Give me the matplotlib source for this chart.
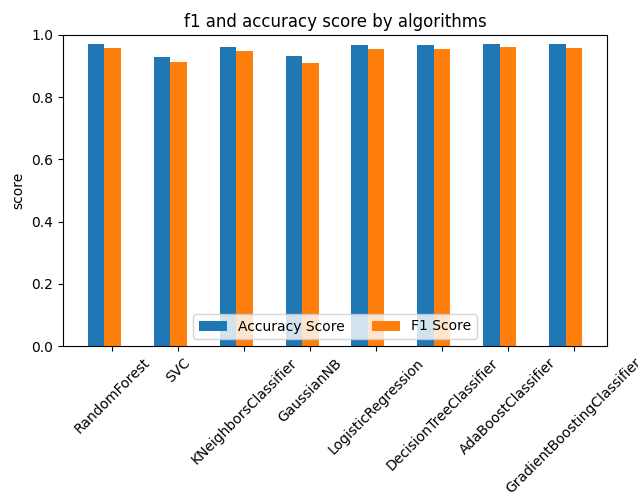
import numpy as np
import matplotlib
matplotlib.use("Agg")
import matplotlib.pyplot as plt

algorithms = ["RandomForest", "SVC", "KNeighborsClassifier", "GaussianNB",
              "LogisticRegression", "DecisionTreeClassifier", "AdaBoostClassifier",
              "GradientBoostingClassifier"]
accuracy = [0.971, 0.930, 0.963, 0.932, 0.967, 0.967, 0.971, 0.971]
f1 = [0.959, 0.913, 0.950, 0.910, 0.954, 0.954, 0.960, 0.957]

fig = plt.figure(figsize=(6.38, 5.0), dpi=100)
ax = fig.add_axes([63/638, 1-346/500, (607-63)/638, (346-35)/500])
x = np.arange(len(algorithms))
w = 0.25
ax.bar(x, accuracy, w, label="Accuracy Score")
ax.bar(x + w, f1, w, label="F1 Score")
ax.set_xticks(x + w)
ax.set_xticklabels(algorithms, rotation=45)
ax.set_ylim(0, 1.0)
ax.set_ylabel("score")
ax.set_title("f1 and accuracy score by algorithms")
ax.legend(loc="lower center", ncol=2)
fig.savefig("out.png", dpi=100)
